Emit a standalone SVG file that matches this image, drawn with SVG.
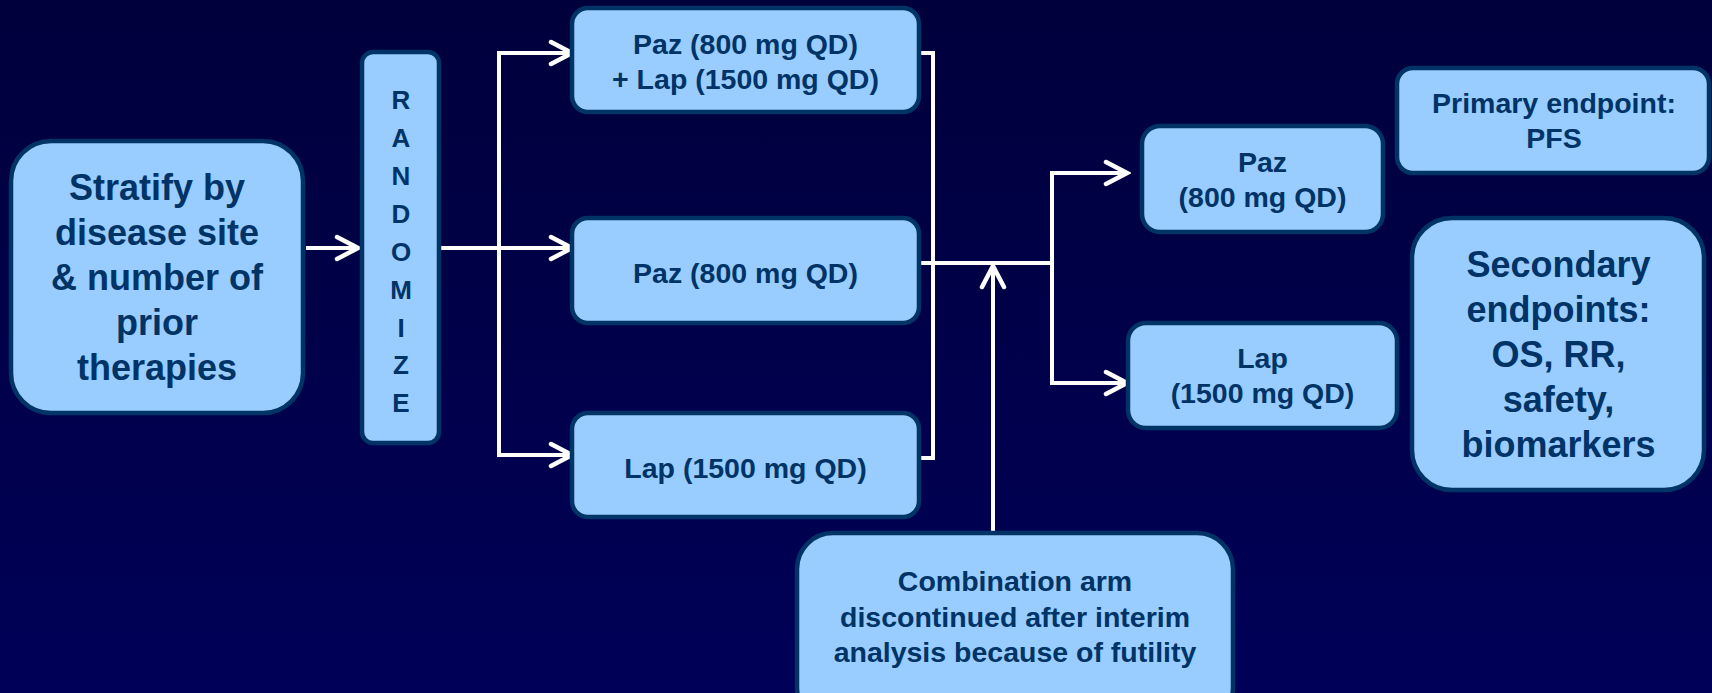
<svg xmlns="http://www.w3.org/2000/svg" width="1712" height="693" viewBox="0 0 1712 693">
<defs>
<linearGradient id="bg" x1="0" y1="0" x2="0" y2="1">
<stop offset="0" stop-color="#00003c"/>
<stop offset="1" stop-color="#000058"/>
</linearGradient>
<marker id="arr" markerUnits="userSpaceOnUse" markerWidth="30" markerHeight="30" viewBox="-26 -15 30 30" refX="0" refY="0" orient="auto">
<path d="M-21,-11 L0,0 L-21,11" fill="none" stroke="#ffffff" stroke-width="4.5" stroke-linecap="round" stroke-linejoin="miter"/>
</marker>
<style>
.box{fill:#99ccff;stroke:#003366;stroke-width:4.5}
.t{font-family:"Liberation Sans",Arial,sans-serif;font-weight:bold;fill:#003366;text-anchor:middle}
.f36{font-size:36px}
.f28{font-size:28.5px}
.f26{font-size:26px}
.c{fill:none;stroke:#ffffff;stroke-width:4}
</style>
</defs>
<rect x="0" y="0" width="1712" height="693" fill="url(#bg)"/>

<g id="connectors">
<path class="c" d="M306,248 L358,248" marker-end="url(#arr)"/>
<path class="c" d="M441,248 L572,248" marker-end="url(#arr)"/>
<path class="c" d="M499,248 L499,53 L572,53" marker-end="url(#arr)"/>
<path class="c" d="M499,248 L499,455 L572,455" marker-end="url(#arr)"/>
<path class="c" d="M919,53 L933,53 L933,458 L919,458"/>
<path class="c" d="M918,263 L1052,263"/>
<path class="c" d="M1052,263 L1052,173 L1127,173" marker-end="url(#arr)"/>
<path class="c" d="M1052,263 L1052,383 L1127,383" marker-end="url(#arr)"/>
<path class="c" d="M993,532 L993,266" marker-end="url(#arr)"/>
</g>

<g id="stratify">
<rect class="box" x="11" y="141" width="292" height="272" rx="40"/>
<text class="t f36" x="157"><tspan x="157" y="200">Stratify by</tspan><tspan x="157" y="245">disease site</tspan><tspan x="157" y="290">&amp; number of</tspan><tspan x="157" y="335">prior</tspan><tspan x="157" y="380">therapies</tspan></text>
</g>

<g id="randomize">
<rect class="box" x="362" y="52" width="77" height="391" rx="11"/>
<text class="t f26"><tspan x="401" y="109">R</tspan><tspan x="401" y="147">A</tspan><tspan x="401" y="185">N</tspan><tspan x="401" y="223">D</tspan><tspan x="401" y="261">O</tspan><tspan x="401" y="299">M</tspan><tspan x="401" y="337">I</tspan><tspan x="401" y="374">Z</tspan><tspan x="401" y="412">E</tspan></text>
</g>

<g id="arm-combo">
<rect class="box" x="572" y="8" width="347" height="104" rx="16"/>
<text class="t f28"><tspan x="745.5" y="54">Paz (800 mg QD)</tspan><tspan x="745.5" y="89">+ Lap (1500 mg QD)</tspan></text>
</g>

<g id="arm-paz">
<rect class="box" x="572" y="218" width="347" height="105" rx="16"/>
<text class="t f28" x="745.5" y="283">Paz (800 mg QD)</text>
</g>

<g id="arm-lap">
<rect class="box" x="572" y="413" width="347" height="104" rx="16"/>
<text class="t f28" x="745.5" y="478">Lap (1500 mg QD)</text>
</g>

<g id="paz-final">
<rect class="box" x="1142" y="126" width="241" height="106" rx="18"/>
<text class="t f28"><tspan x="1262.5" y="172">Paz</tspan><tspan x="1262.5" y="207">(800 mg QD)</tspan></text>
</g>

<g id="lap-final">
<rect class="box" x="1128" y="323" width="269" height="105" rx="18"/>
<text class="t f28"><tspan x="1262.5" y="368">Lap</tspan><tspan x="1262.5" y="403">(1500 mg QD)</tspan></text>
</g>

<g id="primary">
<rect class="box" x="1397" y="68" width="312" height="105" rx="16"/>
<text class="t f28"><tspan x="1554" y="113">Primary endpoint:</tspan><tspan x="1554" y="148">PFS</tspan></text>
</g>

<g id="secondary">
<rect class="box" x="1412" y="218" width="292" height="272" rx="40"/>
<text class="t f36"><tspan x="1558.5" y="277">Secondary</tspan><tspan x="1558.5" y="322">endpoints:</tspan><tspan x="1558.5" y="367">OS, RR,</tspan><tspan x="1558.5" y="412">safety,</tspan><tspan x="1558.5" y="457">biomarkers</tspan></text>
</g>

<g id="discontinued">
<rect class="box" x="797" y="533" width="436" height="190" rx="36"/>
<text class="t f28"><tspan x="1015" y="591">Combination arm</tspan><tspan x="1015" y="627">discontinued after interim</tspan><tspan x="1015" y="662">analysis because of futility</tspan></text>
</g>
</svg>
